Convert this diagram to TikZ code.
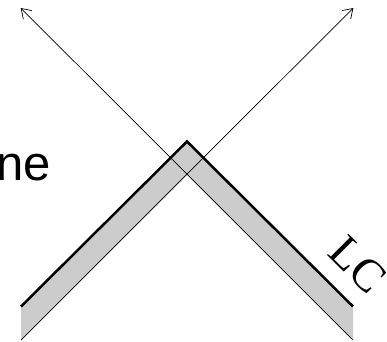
\documentclass[tikz,border=0pt]{standalone}
\usepackage{fontspec}
\setmainfont{Liberation Serif}
\newfontfamily\labelsans{Liberation Sans}
\usetikzlibrary{arrows.meta}
\tikzset{
  thinline/.style={line width=0.7pt, black},
  thickline/.style={line width=2.5pt, black, line cap=butt, line join=miter},
  band/.style={fill=black!20, draw=none},
  axisarrow/.style={thinline, -{Straight Barb[length=9pt, width=12pt]}},
}
\begin{document}
\begin{tikzpicture}[x=1pt, y=-1pt]
  \useasboundingbox (0,0) rectangle (387,341);
  \clip (0,0) rectangle (387,341);
  % key points
  \coordinate (TL) at (21,306.5);
  \coordinate (TA) at (187,141.5);
  \coordinate (TR) at (353,306.5);
  \coordinate (BL) at (21,340);
  \coordinate (BA) at (187,175);
  \coordinate (BR) at (353,340);
  \coordinate (AL) at (20.7,8);
  \coordinate (AR) at (353.3,8);
  % gray band
  \fill[band] (TL) -- (TA) -- (TR) -- (BR) -- (BA) -- (BL) -- cycle;
  % arrows (continuations of the lower edges)
  \draw[axisarrow] (BL) -- (AR);
  \draw[axisarrow] (BR) -- (AL);
  % thick upper edge
  \draw[thickline] (TL) -- (TA) -- (TR);
  % labels
  \node[anchor=base west, inner sep=0pt, font=\labelsans\fontsize{49}{49}\selectfont] (one) at (-31,180.5) {one};
  \node[rotate=-45, inner sep=0pt, font=\fontsize{46}{46}\selectfont] (lc) at (358,265) {LC};
\end{tikzpicture}
\end{document}
